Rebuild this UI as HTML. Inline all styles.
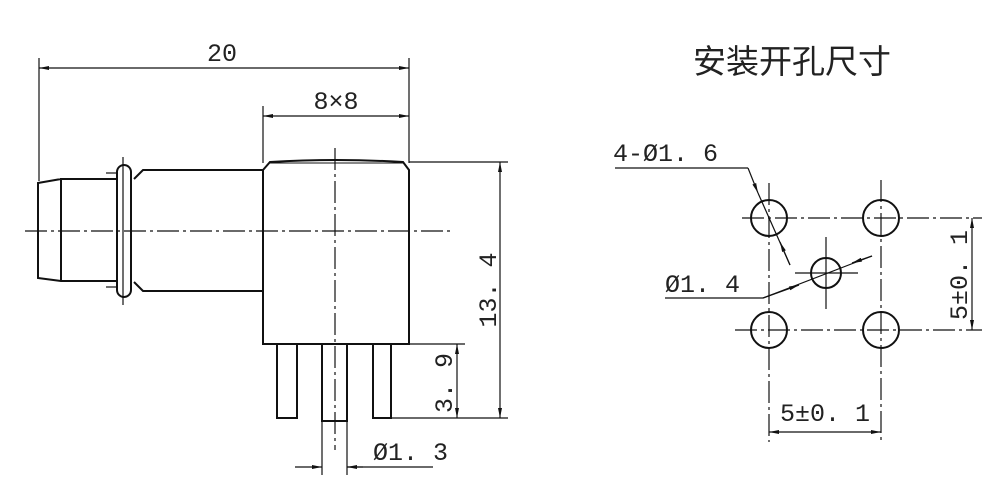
<!DOCTYPE html>
<html><head><meta charset="utf-8"><style>
html,body{margin:0;padding:0;background:#fff;}
svg{display:block}
text{font-family:"Liberation Mono","Noto Sans CJK SC",monospace;fill:#222}
</style></head><body>
<svg width="1000" height="490" viewBox="0 0 1000 490" xmlns="http://www.w3.org/2000/svg">
<defs>
<marker id="a" viewBox="0 0 10 4" refX="10" refY="2" markerWidth="14" markerHeight="4" markerUnits="userSpaceOnUse" orient="auto-start-reverse"><path d="M0,0L10,2L0,4z" fill="#111"/></marker>
</defs>
<g stroke="#111" fill="none" stroke-width="1.2">
<line x1="39" y1="58" x2="39" y2="181"/>
<line x1="409" y1="58" x2="409" y2="163"/>
<line x1="39" y1="68" x2="409" y2="68" marker-start="url(#a)" marker-end="url(#a)"/>
<line x1="263" y1="106" x2="263" y2="163"/>
<line x1="263" y1="116" x2="409" y2="116" marker-start="url(#a)" marker-end="url(#a)"/>
</g>
<g stroke="#111" fill="none" stroke-width="2">
<path d="M263,170 L270,162 Q336,158 403,162 L409,170 L409,344 L263,344 Z"/>
<line x1="270" y1="163" x2="403" y2="163" stroke-width="1"/>
<path d="M263,170 L143,170 L134,179 M134,282 L143,291 L263,291"/>
<rect x="117" y="165" width="14" height="132" rx="7"/>
<path d="M116,179 L61,179 L61,281 L116,281 M61,179 L38,183 L38,278 L61,281"/>
<rect x="277" y="344" width="20" height="74"/>
<rect x="322" y="344" width="25" height="77"/>
<rect x="373" y="344" width="18" height="74"/>
<circle cx="769" cy="218" r="18"/>
<circle cx="881" cy="218" r="18"/>
<circle cx="769" cy="330" r="18"/>
<circle cx="881" cy="330" r="18"/>
<circle cx="826" cy="273" r="15"/>
</g>
<g stroke="#111" fill="none" stroke-width="1.2">
<line x1="25" y1="231" x2="452" y2="231" stroke-dasharray="22,4,3,4"/>
<line x1="335" y1="148" x2="335" y2="450" stroke-dasharray="22,4,3,4"/>
<line x1="123" y1="157" x2="123" y2="305"/>
<line x1="106" y1="173" x2="117" y2="173"/><line x1="106" y1="287" x2="117" y2="287"/>
<line x1="409" y1="162" x2="508" y2="162"/>
<line x1="391" y1="418" x2="508" y2="418"/>
<line x1="500" y1="162" x2="500" y2="418" marker-start="url(#a)" marker-end="url(#a)"/>
<line x1="409" y1="344" x2="465" y2="344"/>
<line x1="457" y1="344" x2="457" y2="418" marker-start="url(#a)" marker-end="url(#a)"/>
<line x1="322" y1="421" x2="322" y2="475"/>
<line x1="347" y1="421" x2="347" y2="475"/>
<line x1="295" y1="467" x2="322" y2="467" marker-end="url(#a)"/>
<line x1="347" y1="467" x2="433" y2="467"/>
<line x1="347" y1="467" x2="363" y2="467" marker-start="url(#a)"/>
<line x1="742" y1="218" x2="982" y2="218" stroke-dasharray="22,4,3,4"/>
<line x1="735" y1="330" x2="982" y2="330" stroke-dasharray="22,4,3,4"/>
<line x1="769" y1="183" x2="769" y2="442" stroke-dasharray="22,4,3,4"/>
<line x1="881" y1="180" x2="881" y2="442" stroke-dasharray="22,4,3,4"/>
<line x1="795" y1="273" x2="858" y2="273"/>
<line x1="826" y1="237" x2="826" y2="309"/>
<line x1="972" y1="218" x2="972" y2="330" marker-start="url(#a)" marker-end="url(#a)"/>
<line x1="769" y1="432" x2="881" y2="432" marker-start="url(#a)" marker-end="url(#a)"/>
<path d="M615,168 L748,168"/>
<line x1="748" y1="168" x2="758" y2="193" marker-end="url(#a)"/>
<line x1="790" y1="265" x2="780" y2="242" marker-end="url(#a)"/>
<line x1="758" y1="193" x2="790" y2="265"/>
<path d="M665,298 L763,298 L872,256"/>
<line x1="763" y1="298" x2="799" y2="285" marker-end="url(#a)"/>
<line x1="872" y1="256" x2="852" y2="263" marker-end="url(#a)"/>
</g>
<g font-size="25">
<text x="222" y="61" text-anchor="middle">20</text>
<text x="336" y="109" text-anchor="middle">8×8</text>
<text transform="translate(496,290) rotate(-90)" text-anchor="middle">13. 4</text>
<text transform="translate(452,383) rotate(-90)" text-anchor="middle">3. 9</text>
<text x="373" y="460">Ø1. 3</text>
<text x="613" y="161">4-Ø1. 6</text>
<text x="665" y="292">Ø1. 4</text>
<text x="825" y="421" text-anchor="middle">5±0. 1</text>
<text transform="translate(967,275) rotate(-90)" text-anchor="middle">5±0. 1</text>
</g>
<text x="792" y="73" font-size="33" text-anchor="middle" style='font-family:"Noto Sans CJK SC",sans-serif'>安装开孔尺寸</text>
</svg>
</body></html>
